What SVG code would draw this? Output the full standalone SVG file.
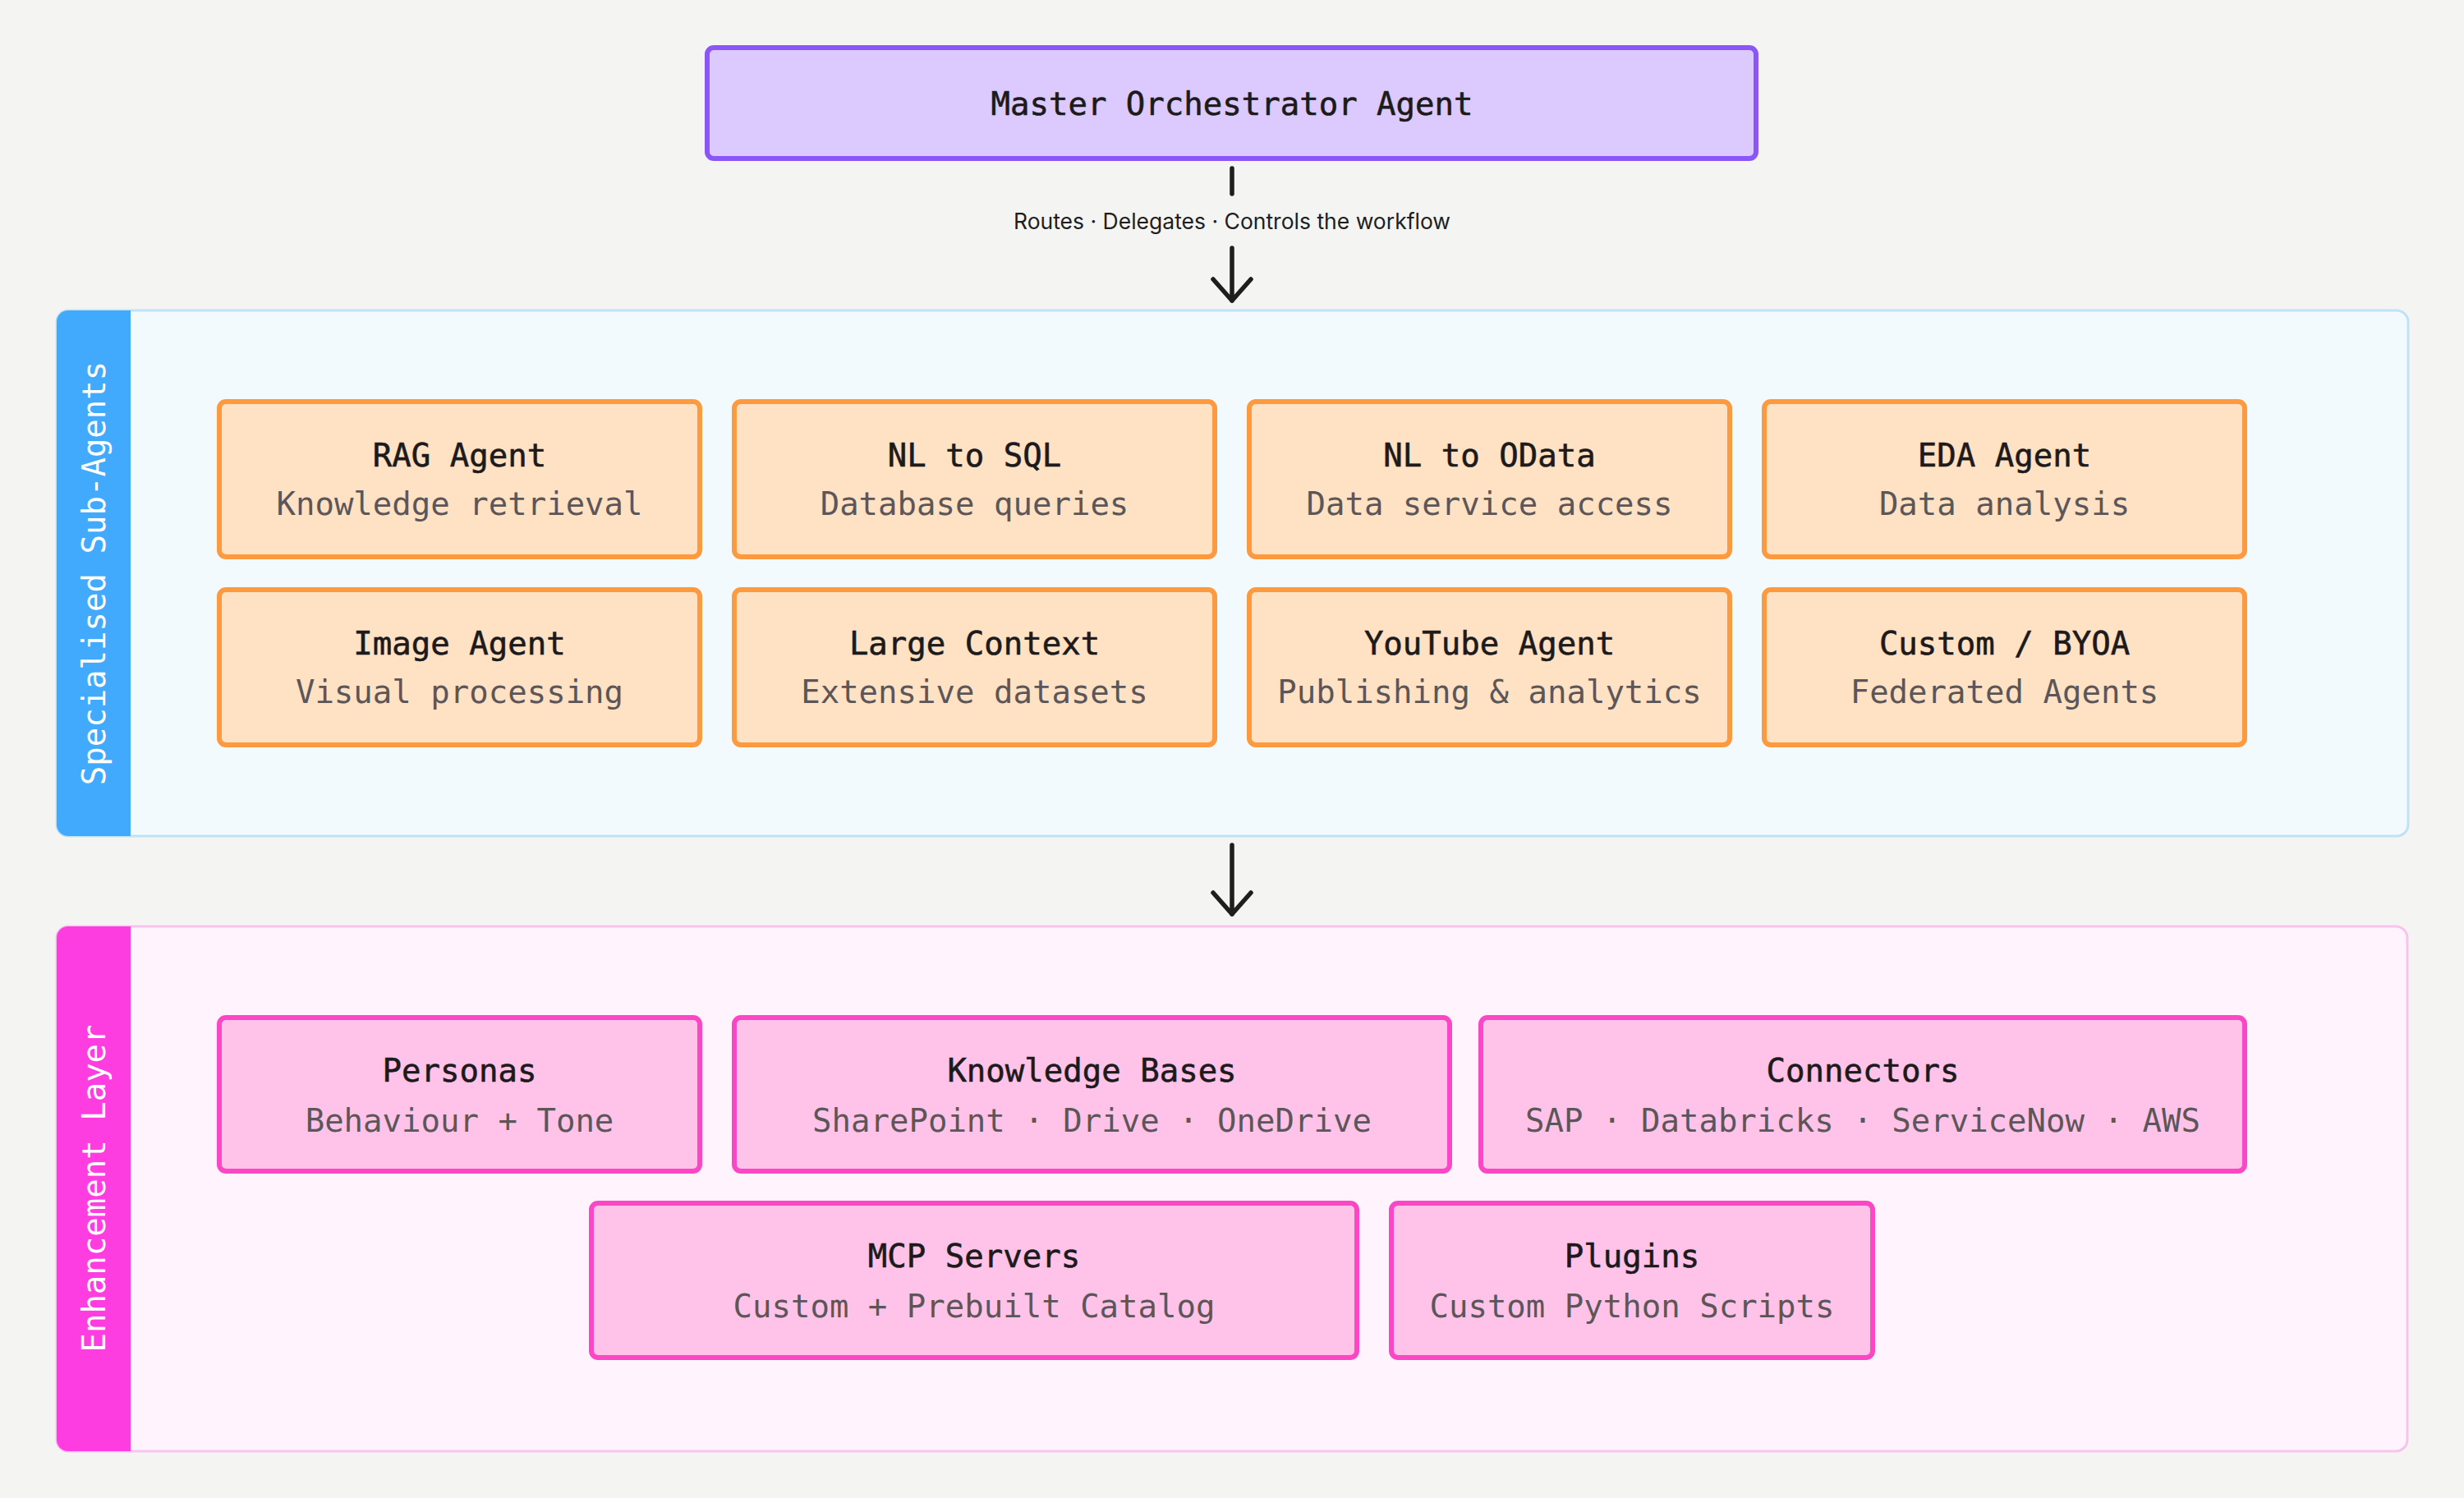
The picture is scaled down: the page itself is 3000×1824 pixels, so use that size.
<svg xmlns="http://www.w3.org/2000/svg" width="3000" height="1824" viewBox="0 0 3000 1824">
<defs>
<style>
.t{font-family:"DejaVu Sans Mono","Liberation Mono",monospace;font-size:39px;text-anchor:middle;fill:#1c1a1b;stroke:#1c1a1b;stroke-width:0.6}
.s{font-family:"DejaVu Sans Mono","Liberation Mono",monospace;font-size:39px;text-anchor:middle;fill:#5c5658}
.side{font-family:"DejaVu Sans Mono","Liberation Mono",monospace;font-size:39px;text-anchor:middle;fill:#ffffff;dominant-baseline:central}
.lbl{font-family:Inter,"Noto Sans",sans-serif;font-size:26.5px;text-anchor:middle;fill:#1e1e1e}
.org{fill:#ffe1c4;stroke:#fd9a3f;stroke-width:6}
.pnk{fill:#ffc3ea;stroke:#fb46c6;stroke-width:6}
.con{stroke:#1e1e1e;stroke-width:5.5;fill:none;stroke-linecap:round;stroke-linejoin:round}
</style>
</defs>
<rect x="0" y="0" width="3000" height="1824" fill="#f4f4f3"/>

<g id="panel-subagents">
<rect x="69" y="378" width="2863" height="640" rx="14" fill="#f2fafe" stroke="#bfe3f5" stroke-width="3"/>
<path d="M83 378 H159 V1018 H83 A14 14 0 0 1 69 1004 V392 A14 14 0 0 1 83 378 Z" fill="#42aafc"/>
<text class="side" transform="translate(114 698) rotate(-90)">Specialised Sub-Agents</text>
</g>

<g id="panel-enhancement">
<rect x="69" y="1128" width="2862" height="639" rx="14" fill="#fff4fd" stroke="#f6c4ec" stroke-width="3"/>
<path d="M83 1128 H159 V1767 H83 A14 14 0 0 1 69 1753 V1142 A14 14 0 0 1 83 1128 Z" fill="#fe3de1"/>
<text class="side" transform="translate(114 1447) rotate(-90)">Enhancement Layer</text>
</g>

<g id="master">
<rect x="861" y="58" width="1277" height="135" rx="8" fill="#dccafe" stroke="#8a56f8" stroke-width="6"/>
<text class="t" x="1500" y="140">Master Orchestrator Agent</text>
</g>

<g id="connectors">
<line class="con" x1="1500" y1="205" x2="1500" y2="236"/>
<text class="lbl" x="1500" y="279">Routes · Delegates · Controls the workflow</text>
<line class="con" x1="1500" y1="302" x2="1500" y2="366"/>
<polyline class="con" points="1477,340 1500,366 1523,340"/>
<line class="con" x1="1500" y1="1029" x2="1500" y2="1113"/>
<polyline class="con" points="1477,1087 1500,1113 1523,1087"/>
</g>

<g id="rag">
<rect class="org" x="267" y="489" width="585" height="189" rx="8"/>
<text class="t" x="559.5" y="568">RAG Agent</text>
<text class="s" x="559.5" y="627">Knowledge retrieval</text>
</g>
<g id="nl2sql">
<rect class="org" x="894" y="489" width="585" height="189" rx="8"/>
<text class="t" x="1186.5" y="568">NL to SQL</text>
<text class="s" x="1186.5" y="627">Database queries</text>
</g>
<g id="nl2odata">
<rect class="org" x="1521" y="489" width="585" height="189" rx="8"/>
<text class="t" x="1813.5" y="568">NL to OData</text>
<text class="s" x="1813.5" y="627">Data service access</text>
</g>
<g id="eda">
<rect class="org" x="2148" y="489" width="585" height="189" rx="8"/>
<text class="t" x="2440.5" y="568">EDA Agent</text>
<text class="s" x="2440.5" y="627">Data analysis</text>
</g>
<g id="image">
<rect class="org" x="267" y="718" width="585" height="189" rx="8"/>
<text class="t" x="559.5" y="797">Image Agent</text>
<text class="s" x="559.5" y="856">Visual processing</text>
</g>
<g id="largecontext">
<rect class="org" x="894" y="718" width="585" height="189" rx="8"/>
<text class="t" x="1186.5" y="797">Large Context</text>
<text class="s" x="1186.5" y="856">Extensive datasets</text>
</g>
<g id="youtube">
<rect class="org" x="1521" y="718" width="585" height="189" rx="8"/>
<text class="t" x="1813.5" y="797">YouTube Agent</text>
<text class="s" x="1813.5" y="856">Publishing &amp; analytics</text>
</g>
<g id="custom">
<rect class="org" x="2148" y="718" width="585" height="189" rx="8"/>
<text class="t" x="2440.5" y="797">Custom / BYOA</text>
<text class="s" x="2440.5" y="856">Federated Agents</text>
</g>

<g id="personas">
<rect class="pnk" x="267" y="1239" width="585" height="187" rx="8"/>
<text class="t" x="559.5" y="1317">Personas</text>
<text class="s" x="559.5" y="1378">Behaviour + Tone</text>
</g>
<g id="knowledgebases">
<rect class="pnk" x="894" y="1239" width="871" height="187" rx="8"/>
<text class="t" x="1329.5" y="1317">Knowledge Bases</text>
<text class="s" x="1329.5" y="1378">SharePoint · Drive · OneDrive</text>
</g>
<g id="connectorsnode">
<rect class="pnk" x="1803" y="1239" width="930" height="187" rx="8"/>
<text class="t" x="2268" y="1317">Connectors</text>
<text class="s" x="2268" y="1378">SAP · Databricks · ServiceNow · AWS</text>
</g>
<g id="mcp">
<rect class="pnk" x="720" y="1465" width="932" height="188" rx="8"/>
<text class="t" x="1186" y="1543">MCP Servers</text>
<text class="s" x="1186" y="1604">Custom + Prebuilt Catalog</text>
</g>
<g id="plugins">
<rect class="pnk" x="1694" y="1465" width="586" height="188" rx="8"/>
<text class="t" x="1987" y="1543">Plugins</text>
<text class="s" x="1987" y="1604">Custom Python Scripts</text>
</g>
</svg>
